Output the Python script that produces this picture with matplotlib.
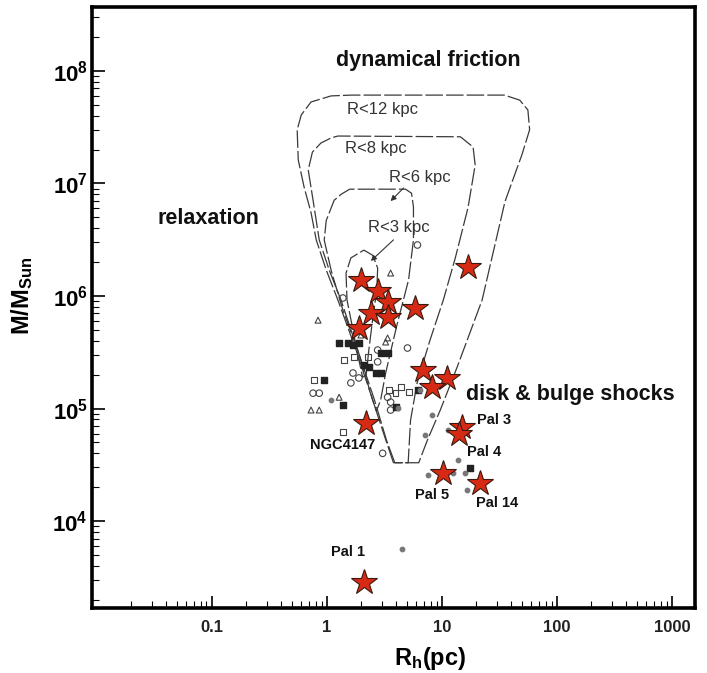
import numpy as np
import matplotlib
matplotlib.use('Agg')
import matplotlib.pyplot as plt
from matplotlib.ticker import LogLocator, NullFormatter, FixedLocator, FuncFormatter

plt.rcParams['font.family'] = ['Liberation Sans', 'DejaVu Sans']
plt.rcParams['mathtext.fontset'] = 'custom'
plt.rcParams['mathtext.rm'] = 'Liberation Sans'
plt.rcParams['mathtext.bf'] = 'Liberation Sans:bold'
plt.rcParams['mathtext.it'] = 'Liberation Sans:italic'

# ---- survival contours (R_h [pc], M [Msun]) ----
r12_R = [3.8, 3.25, 2.5, 1.8, 1.25, 0.99, 0.81, 0.73, 0.635, 0.565, 0.553, 0.6, 0.73, 1.09, 1.62,
         35, 47.6, 56, 58, 49.6, 35.4, 22.4, 13.6, 9.7, 7.5, 6.3, 3.8]
r12_M = [3.3e4, 5.3e4, 1.2e5, 3.3e5, 9.2e5, 1.7e6, 3.15e6, 5.5e6, 9.3e6, 1.62e7, 3.0e7, 4.06e7, 5.3e7, 6.0e7, 6.1e7,
         6.1e7, 5.5e7, 4.5e7, 3.0e7, 1.79e7, 6.9e6, 9.2e5, 2.34e5, 9.7e4, 5.25e4, 3.3e4, 3.3e4]

r8_R = [3.9, 3.3, 2.6, 1.86, 1.33, 1.05, 0.86, 0.76, 0.69, 0.75, 0.89, 1.1, 1.25,
        14.5, 18.7, 19.5, 16.9, 13.1, 10.3, 7.9, 6.1, 5.35, 5.1, 3.9]
r8_M = [3.3e4, 5.25e4, 1.19e5, 3.3e5, 9.2e5, 1.7e6, 3.15e6, 7.1e6, 1.32e7, 1.9e7, 2.29e7, 2.55e7, 2.64e7,
        2.6e7, 2.11e7, 1.46e7, 6.1e6, 2.18e6, 9.2e5, 4.06e5, 1.69e5, 7.9e4, 3.3e4, 3.3e4]

r6_R = [2.7, 2.5, 1.86, 1.38, 1.09, 0.95, 0.99, 1.16, 1.33, 1.58,
        4.84, 5.45, 5.67, 5.67, 5.14, 4.05, 3.25, 2.94, 2.7]
r6_M = [9.5e4, 1.2e5, 3.3e5, 7.5e5, 1.7e6, 3.15e6, 4.7e6, 7.1e6, 8.0e6, 8.9e6,
        8.9e6, 8.2e6, 6.2e6, 3.15e6, 1.39e6, 5.4e5, 2.07e5, 1.19e5, 9.5e4]

r3_R = [2.1, 2.51, 2.77, 2.72, 2.5, 2.32, 2.2, 2.05, 1.9, 1.69, 1.5, 1.47, 1.62, 2.1]
r3_M = [2.56e6, 2.3e6, 1.77e6, 1.13e6, 6.1e5, 3.3e5, 2.0e5, 1.9e5, 2.7e5, 5.0e5, 9.2e5, 1.6e6, 2.18e6, 2.56e6]

# ---- globular clusters (small symbols) ----
ocirc_R = [1.38, 1.69, 1.90, 1.62, 5.03, 6.14, 2.77, 0.76, 0.86, 3.38, 3.59, 3.59, 3.06, 2.77]
ocirc_M = [9.6e5, 2.07e5, 1.87e5, 1.69e5, 3.45e5, 2.84e6, 3.31e5, 1.37e5, 1.37e5, 1.26e5, 1.14e5, 9.7e4, 4.0e4, 2.6e5]

fsq_R = [1.28, 1.53, 1.69, 1.90, 2.10, 2.32, 2.66, 2.94, 2.94, 3.38, 0.95, 3.96, 6.27, 17.6, 1.38]
fsq_M = [3.82e5, 3.82e5, 3.66e5, 3.82e5, 2.44e5, 2.34e5, 2.07e5, 2.07e5, 3.11e5, 3.11e5, 1.79e5, 1.03e5, 1.46e5, 2.96e4, 1.07e5]

osq_R = [1.41, 1.72, 2.27, 0.78, 3.45, 3.96, 5.14, 1.38, 4.38]
osq_M = [2.7e5, 2.87e5, 2.87e5, 1.79e5, 1.46e5, 1.37e5, 1.40e5, 6.2e4, 1.55e5]

tri_R = [0.84, 3.38, 0.73, 0.86, 3.59, 3.25, 1.28, 1.98]
tri_M = [6.1e5, 4.24e5, 9.7e4, 9.7e4, 1.6e6, 3.9e5, 1.26e5, 4.5e5]

dot_R = [8.28, 11.4, 7.2, 13.9, 16.0, 7.64, 12.6, 16.6, 4.47, 1.09, 6.52, 4.13]
dot_M = [8.75e4, 6.4e4, 5.8e4, 3.5e4, 2.67e4, 2.56e4, 2.67e4, 1.89e4, 5.6e3, 1.19e5, 1.46e5, 1.01e5]

# ---- highlighted clusters (red stars) ----
star_R = [17, 2.0, 2.8, 3.4, 2.4, 3.4, 1.9, 5.9, 6.9, 11.2, 8.3, 2.2, 15, 14, 10.3, 21.5, 2.1]
star_M = [1.8e6, 1.4e6, 1.1e6, 8.9e5, 7.1e5, 6.5e5, 5.2e5, 7.8e5, 2.2e5, 1.87e5, 1.55e5,
          7.4e4, 6.9e4, 5.9e4, 2.7e4, 2.2e4, 2.9e3]

# cluster names
name_txt = ['Pal 3', 'Pal 4', 'Pal 5', 'Pal 14', 'NGC4147', 'Pal 1']
name_R = [20.3, 16.6, 8.3, 30.2, 1.38, 1.53]
name_M = [7.9e4, 4.1e4, 1.7e4, 1.45e4, 4.74e4, 5.3e3]
name_ha = ['left', 'left', 'center', 'center', 'center', 'center']

# contour labels
clab_txt = ['R<12 kpc', 'R<8 kpc', 'R<6 kpc', 'R<3 kpc']
clab_R = [1.5, 1.43, 3.45, 2.27]
clab_M = [4.5e7, 2.03e7, 1.12e7, 4.1e6]

# region labels
reg_txt = ['dynamical friction', 'relaxation', 'disk & bulge shocks']
reg_R = [7.6, 0.094, 131]
reg_M = [1.25e8, 4.9e6, 1.32e5]

fig = plt.figure(figsize=(7.07, 6.73), dpi=100)
ax = fig.add_axes([0.1301, 0.0966, 0.853, 0.893])
ax.set_xscale('log')
ax.set_yscale('log')
ax.set_xlim(0.0091, 1590)
ax.set_ylim(1690, 3.7e8)

dash = (0, (14, 2.5))
for cr, cm in [(r12_R, r12_M), (r8_R, r8_M), (r6_R, r6_M), (r3_R, r3_M)]:
    ax.plot(cr, cm, color='#3a3a3a', lw=0.9, ls=dash, zorder=2)

ax.scatter(ocirc_R, ocirc_M, s=22, facecolors='none', edgecolors='#444444', linewidths=0.8, zorder=3)
ax.scatter(osq_R, osq_M, s=18, marker='s', facecolors='none', edgecolors='#444444', linewidths=0.8, zorder=3)
ax.scatter(fsq_R, fsq_M, s=16, marker='s', color='#222222', zorder=3)
ax.scatter(tri_R, tri_M, s=18, marker='^', facecolors='none', edgecolors='#444444', linewidths=0.8, zorder=3)
ax.scatter(dot_R, dot_M, s=10, color='#777777', zorder=3)

ax.plot(star_R, star_M, ls='none', marker='*', ms=19, mfc='#d62a14', mec='#3a1a10', mew=0.8, zorder=4)

for t, x, y, ha in zip(name_txt, name_R, name_M, name_ha):
    ax.text(x, y, t, fontsize=10.5, fontweight='bold', ha=ha, va='center', color='#111111', zorder=5)

for t, x, y in zip(clab_txt, clab_R, clab_M):
    ax.text(x, y, t, fontsize=12, ha='left', va='center', color='#333333', zorder=5)

ax.annotate('', xy=(3.45, 6.7e6), xytext=(4.84, 9.5e6),
            arrowprops=dict(arrowstyle='-|>', color='#333333', lw=0.8, mutation_scale=8))
ax.annotate('', xy=(2.32, 1.97e6), xytext=(3.96, 3.28e6),
            arrowprops=dict(arrowstyle='-|>', color='#333333', lw=0.8, mutation_scale=8))

for t, x, y in zip(reg_txt, reg_R, reg_M):
    ax.text(x, y, t, fontsize=15.5, fontweight='bold', ha='center', va='center', color='#111111', zorder=5)

# axes styling
for sp in ax.spines.values():
    sp.set_linewidth(2.6)
ax.tick_params(which='both', direction='in', top=False, right=False)
ax.tick_params(which='major', length=9, width=1.2)
ax.tick_params(which='minor', length=5, width=0.8)

ax.xaxis.set_major_locator(FixedLocator([0.1, 1, 10, 100, 1000]))
ax.xaxis.set_major_formatter(FuncFormatter(lambda v, p: {0.1: '0.1', 1: '1', 10: '10', 100: '100', 1000: '1000'}.get(round(v, 1), '')))
ax.xaxis.set_minor_locator(LogLocator(base=10, subs=np.arange(2, 10), numticks=20))
ax.xaxis.set_minor_formatter(NullFormatter())
ax.yaxis.set_major_locator(FixedLocator([1e4, 1e5, 1e6, 1e7, 1e8]))
ax.yaxis.set_major_formatter(FuncFormatter(lambda v, p: r'$\mathbf{10^{%d}}$' % round(np.log10(v))))
ax.yaxis.set_minor_locator(LogLocator(base=10, subs=np.arange(2, 10), numticks=20))
ax.yaxis.set_minor_formatter(NullFormatter())

for lab in ax.get_xticklabels():
    lab.set_fontsize(12)
    lab.set_fontweight('bold')
    lab.set_color('#222222')
for lab in ax.get_yticklabels():
    lab.set_fontsize(16)
ax.tick_params(axis='x', pad=9)
ax.tick_params(axis='y', pad=3)

ax.set_xlabel(r'$\mathbf{R_h}$(pc)', fontsize=17, fontweight='bold')
ax.xaxis.set_label_coords(0.56, -0.062)
ax.set_ylabel(r'$\mathbf{M/M_{Sun}}$', fontsize=17)
ax.yaxis.set_label_coords(-0.095, 0.52)

fig.savefig('out.png', dpi=100)
